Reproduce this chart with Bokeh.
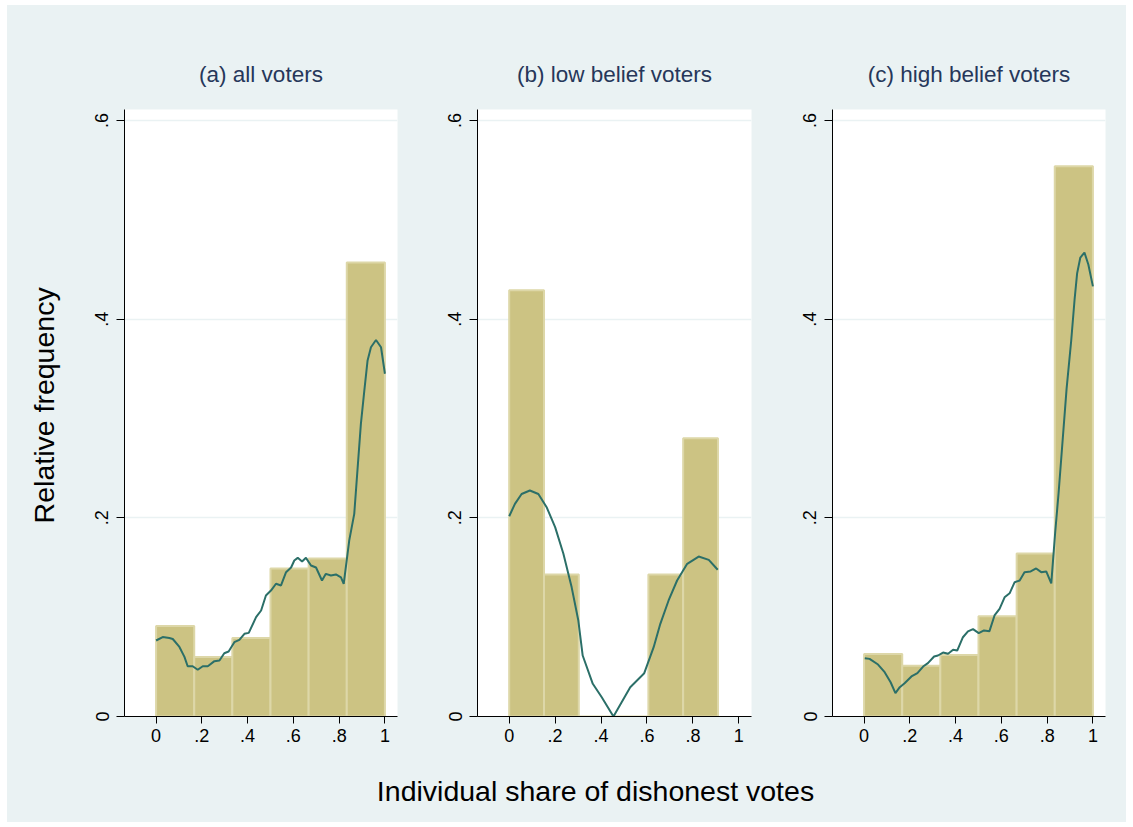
import math

from bokeh.core.properties import value
from bokeh.embed import file_html
from bokeh.layouts import column, row
from bokeh.models import FixedTicker, Range1d
from bokeh.plotting import figure
from bokeh.resources import INLINE

# ---------------------------------------------------------------- data
panel_titles = ["(a) all voters", "(b) low belief voters", "(c) high belief voters"]
y_title = "Relative frequency"
x_title = "Individual share of dishonest votes"

# histogram bin edges (share of dishonest votes)
edges_a = [0.0, 0.1667, 0.3333, 0.5, 0.6667, 0.8333, 1.0]
edges_b = [0.0, 0.1515, 0.303, 0.4545, 0.606, 0.7575, 0.909]
edges_c = [0.0, 0.1667, 0.3333, 0.5, 0.6667, 0.8333, 1.0]

# relative frequency per bin
freq_a = [0.091, 0.060, 0.079, 0.149, 0.159, 0.457]
freq_b = [0.429, 0.143, 0.0, 0.0, 0.143, 0.280]
freq_c = [0.063, 0.051, 0.062, 0.101, 0.164, 0.554]

# kernel density estimates
kde_a_x = [0.0, 0.029, 0.058, 0.073, 0.102, 0.124, 0.138, 0.160, 0.182, 0.204,
           0.226, 0.255, 0.277, 0.298, 0.317, 0.342, 0.364, 0.386, 0.405, 0.437,
           0.459, 0.480, 0.502, 0.524, 0.546, 0.568, 0.590, 0.604, 0.619, 0.638,
           0.655, 0.677, 0.699, 0.725, 0.742, 0.764, 0.786, 0.808, 0.820, 0.844,
           0.866, 0.881, 0.895, 0.910, 0.924, 0.939, 0.961, 0.983, 1.0]
kde_a_y = [0.0765, 0.080, 0.079, 0.078, 0.070, 0.060, 0.0506, 0.0506, 0.047, 0.0506,
           0.0506, 0.0557, 0.0564, 0.0637, 0.0654, 0.0748, 0.0772, 0.0832, 0.0842, 0.100,
           0.1067, 0.1218, 0.1268, 0.1336, 0.1319, 0.1453, 0.150, 0.157, 0.1597, 0.156,
           0.1597, 0.152, 0.150, 0.1369, 0.1436, 0.1419, 0.143, 0.140, 0.1336, 0.177,
           0.204, 0.251, 0.2946, 0.328, 0.358, 0.3717, 0.379, 0.3717, 0.345]

kde_b_x = [0.0, 0.025, 0.054, 0.090, 0.127, 0.163, 0.200, 0.236, 0.272, 0.301,
           0.320, 0.364, 0.403, 0.454, 0.527, 0.588, 0.629, 0.658, 0.694, 0.731,
           0.775, 0.825, 0.869, 0.908]
kde_b_y = [0.2016, 0.214, 0.224, 0.2275, 0.224, 0.2107, 0.1906, 0.1638, 0.130, 0.0966,
           0.0614, 0.0329, 0.0194, 0.0, 0.0295, 0.0436, 0.0698, 0.0933, 0.1168, 0.1369,
           0.1537, 0.161, 0.1577, 0.1477]

kde_c_x = [0.003, 0.024, 0.061, 0.090, 0.116, 0.137, 0.156, 0.177, 0.207, 0.233,
           0.258, 0.279, 0.306, 0.323, 0.345, 0.367, 0.389, 0.407, 0.432, 0.454,
           0.476, 0.501, 0.524, 0.548, 0.570, 0.592, 0.614, 0.636, 0.658, 0.680,
           0.701, 0.728, 0.752, 0.774, 0.796, 0.818, 0.835, 0.850, 0.865, 0.885,
           0.905, 0.920, 0.931, 0.945, 0.963, 0.980, 1.0]
kde_c_y = [0.0587, 0.058, 0.0523, 0.0446, 0.0345, 0.0235, 0.0295, 0.0335, 0.0403, 0.0436,
           0.0503, 0.0537, 0.0604, 0.0614, 0.0644, 0.0631, 0.0671, 0.0664, 0.0798, 0.0856,
           0.0879, 0.0839, 0.0866, 0.0859, 0.1017, 0.1084, 0.120, 0.124, 0.1352, 0.1369,
           0.1453, 0.146, 0.149, 0.1453, 0.146, 0.134, 0.185, 0.225, 0.270, 0.330,
           0.378, 0.420, 0.446, 0.462, 0.467, 0.455, 0.433]

x_ticks = [0, 0.2, 0.4, 0.6, 0.8, 1.0]
x_tick_labels = ["0", ".2", ".4", ".6", ".8", "1"]
y_ticks = [0, 0.2, 0.4, 0.6]
y_tick_labels = ["0", ".2", ".4", ".6"]

# ---------------------------------------------------------------- style
FONT = "Liberation Sans"
BG = "#EAF2F3"
BAR_FILL = "#CCC383"
BAR_EDGE = "#DDD7A8"
CURVE = "#2B6F68"
TITLE_COLOR = "#26375A"

YSTRIP_W = 56          # width of the strip holding the shared y title
XSTRIP_H = 62          # height of the strip holding the shared x title
PANEL_H = 755          # canvas height of each panel

# (title, bin edges, frequencies, kde x, kde y, left border, frame width, right border)
panels = [
    (panel_titles[0], edges_a, freq_a, kde_a_x, kde_a_y, 117 - YSTRIP_W, 273, 40),
    (panel_titles[1], edges_b, freq_b, kde_b_x, kde_b_y, 40, 274, 40),
    (panel_titles[2], edges_c, freq_c, kde_c_x, kde_c_y, 41, 273, 21),
]

figs = []
for title, edges, freq, kx, ky, b_left, f_width, b_right in panels:
    p = figure(
        frame_width=f_width,
        frame_height=607,
        min_border_left=b_left,
        min_border_right=b_right,
        min_border_top=104,
        min_border_bottom=44,
        x_range=Range1d(-0.138, 1.055),
        y_range=Range1d(0, 0.611),
        output_backend="svg",
        toolbar_location=None,
        background_fill_color="white",
        border_fill_color=BG,
        outline_line_color=None,
        title=title,
    )
    p.title.align = "center"
    p.title.text_font = FONT
    p.title.text_font_size = "22.5px"
    p.title.text_font_style = "normal"
    p.title.text_color = TITLE_COLOR
    p.title.standoff = 46

    p.quad(left=edges[:-1], right=edges[1:], bottom=0, top=freq,
           fill_color=BAR_FILL, line_color=BAR_EDGE, line_width=2)
    p.line(kx, ky, line_color=CURVE, line_width=2)

    p.xgrid.visible = False
    p.ygrid.ticker = FixedTicker(ticks=y_ticks)
    p.ygrid.grid_line_color = BG
    p.ygrid.grid_line_width = 1.5

    for ax in (p.xaxis, p.yaxis):
        ax.axis_line_color = "black"
        ax.axis_line_width = 1
        ax.major_tick_line_color = "black"
        ax.minor_tick_line_color = None
        ax.major_tick_in = 0
        ax.major_label_text_font = FONT
        ax.major_label_text_font_size = "18px"
        ax.major_label_text_color = "black"

    p.xaxis.ticker = FixedTicker(ticks=x_ticks)
    p.xaxis.major_label_overrides = dict(zip(x_ticks, x_tick_labels))
    p.xaxis.major_tick_out = 7
    p.xaxis.major_label_standoff = 5

    p.yaxis.ticker = FixedTicker(ticks=y_ticks)
    p.yaxis.major_label_overrides = dict(zip(y_ticks, y_tick_labels))
    p.yaxis.major_label_orientation = "vertical"
    p.yaxis.major_tick_out = 8
    p.yaxis.major_label_standoff = 8

    figs.append(p)


def text_strip(width, height):
    """A bare canvas whose frame fills it; coordinates are pixels from its top-left."""
    s = figure(
        width=width, height=height,
        min_border_left=0, min_border_right=0, min_border_top=0, min_border_bottom=0,
        x_range=Range1d(0, width), y_range=Range1d(height, 0),
        output_backend="svg", toolbar_location=None,
        background_fill_color=BG, border_fill_color=BG, outline_line_color=None,
    )
    s.axis.visible = False
    s.grid.visible = False
    return s


# shared y title, left of the first panel
ystrip = text_strip(YSTRIP_W, PANEL_H)
ystrip.text(x=[36], y=[368], text=[y_title], angle=math.pi / 2,
            text_align="center", text_baseline="middle",
            text_font=value(FONT), text_font_size="28.5px", text_color="black")

# shared x title, under all three panels
xstrip = text_strip(1119, XSTRIP_H)
xstrip.text(x=[588], y=[30], text=[x_title],
            text_align="center", text_baseline="middle",
            text_font=value(FONT), text_font_size="28.5px", text_color="black")

layout = column(row(ystrip, *figs, spacing=0), xstrip, spacing=0,
                margin=(5, 0, 0, 7), styles={"background-color": BG})

open("out.html", "w").write(file_html(layout, INLINE))
